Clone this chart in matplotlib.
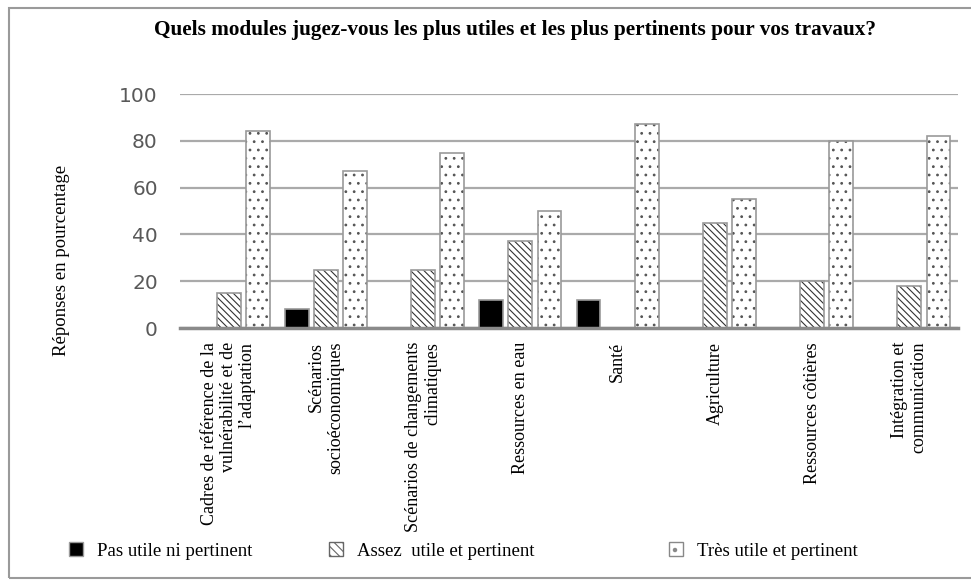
import matplotlib.pyplot as plt
import matplotlib.patches as mpatches
import numpy as np

categories = [
    "Cadres de référence de la\nvulnérabilité et de\nl\u2019adaptation",
    "Scénarios\nsocioéconomiques",
    "Scénarios de changements\nclimatiques",
    "Ressources en eau",
    "Santé",
    "Agriculture",
    "Ressources côtières",
    "Intégration et\ncommunication",
]
pas_utile = [0, 8, 0, 12, 12, 0, 0, 0]
assez_utile = [15, 25, 25, 37, 0, 45, 20, 18]
tres_utile = [84, 67, 75, 50, 87, 55, 80, 82]
series_labels = ["Pas utile ni pertinent", "Assez  utile et pertinent", "Très utile et pertinent"]

serif = "Liberation Serif"
plt.rcParams['hatch.linewidth'] = 0.8

fig = plt.figure(figsize=(9.71, 5.85), dpi=100)
ax = fig.add_axes([180 / 971, 1 - 328 / 585, 778 / 971, 234 / 585])

x = np.arange(len(categories))
step = 0.3
w = 0.245

styles = [
    dict(color='black', hatch=None, hc='#222222'),
    dict(color='white', hatch='\\\\\\\\\\', hc='#333333'),
    dict(color='white', hatch='..', hc='#555555'),
]
for i, vals in enumerate([pas_utile, assez_utile, tres_utile]):
    pos = x + (i - 1) * step
    st = styles[i]
    ax.bar(pos, vals, w, color=st['color'], hatch=st['hatch'],
           edgecolor=st['hc'], linewidth=0, zorder=3)
    ax.bar(pos, vals, w, fill=False, edgecolor='#9a9a9a', linewidth=1.2, zorder=4)

ax.set_xlim(-0.5, len(categories) - 0.5)
ax.set_ylim(0, 100)
ax.set_yticks([0, 20, 40, 60, 80, 100])
ax.tick_params(axis='y', length=0, pad=16, labelsize=14.5, labelcolor='#595959')
for t in ax.get_yticklabels():
    t.set_family('DejaVu Sans')
ax.set_xticks(x)
ax.set_xticklabels(categories, rotation=90, fontsize=13, family=serif,
                   ha='center', va='top', multialignment='right', linespacing=1.15)
ax.tick_params(axis='x', length=0, pad=10)
ax.yaxis.grid(True, color='#aaaaaa', linewidth=1.6, zorder=0)
ax.set_axisbelow(True)
for s in ['top', 'right', 'left']:
    ax.spines[s].set_visible(False)
ax.spines['bottom'].set_color('#8a8a8a')
ax.spines['bottom'].set_linewidth(2.5)
ax.spines['bottom'].set_zorder(5)

fig.text(62 / 971, 1 - 260 / 585, "Réponses en pourcentage", rotation=90,
         ha='center', va='center', fontsize=13.5, family=serif)
fig.text(515 / 971, 1 - 30 / 585,
         "Quels modules jugez-vous les plus utiles et les plus pertinents pour vos travaux?",
         ha='center', va='center', fontsize=15.3, fontweight='bold', family=serif)

# legend entries, placed one by one like in the original
handles = [
    mpatches.Patch(facecolor='black', edgecolor='#9a9a9a'),
    mpatches.Patch(facecolor='white', edgecolor='#666666', hatch='\\\\\\\\'),
    mpatches.Patch(facecolor='white', edgecolor='#888888', hatch='.'),
]
lx = [60, 320, 660]
for h, lab, px in zip(handles, series_labels, lx):
    fig.legend([h], [lab], loc='center left', bbox_to_anchor=(px / 971, 1 - 551 / 585),
               frameon=False, prop={'family': serif, 'size': 13.5},
               handlelength=0.75, handleheight=0.75, handletextpad=0.7, borderpad=0)

# outer frame
fig.add_artist(plt.Rectangle((9 / 971, 1 - 578 / 585), 1.0, 570 / 585,
                             transform=fig.transFigure, fill=False,
                             edgecolor='#9a9a9a', linewidth=1.5))

fig.savefig("out.png", dpi=100)
